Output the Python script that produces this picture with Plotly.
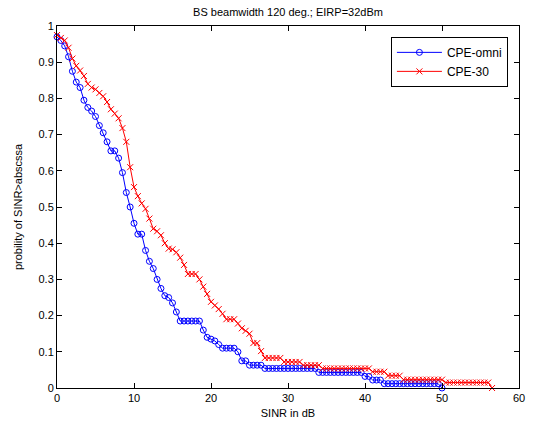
import plotly.graph_objects as go

sinr_db = [0, 0.5, 1, 1.5, 2, 2.5, 3, 3.5, 4, 4.5, 5, 5.5, 6, 6.5, 7, 7.5, 8, 8.5, 9, 9.5,
           10, 10.5, 11, 11.5, 12, 12.5, 13, 13.5, 14, 14.5, 15, 15.5, 16, 16.5, 17, 17.5, 18, 18.5, 19, 19.5,
           20, 20.5, 21, 21.5, 22, 22.5, 23, 23.5, 24, 24.5, 25, 25.5, 26, 26.5, 27, 27.5, 28, 28.5, 29, 29.5,
           30, 30.5, 31, 31.5, 32, 32.5, 33, 33.5, 34, 34.5, 35, 35.5, 36, 36.5, 37, 37.5, 38, 38.5, 39, 39.5,
           40, 40.5, 41, 41.5, 42, 42.5, 43, 43.5, 44, 44.5, 45, 45.5, 46, 46.5, 47, 47.5, 48, 48.5, 49, 49.5,
           50, 50.5, 51, 51.5, 52, 52.5, 53, 53.5, 54, 54.5, 55, 55.5, 56, 56.5]

p_omni = [0.97, 0.96, 0.945, 0.915, 0.875, 0.845, 0.83, 0.795, 0.775, 0.765,
          0.75, 0.725, 0.705, 0.68, 0.655, 0.655, 0.635, 0.595, 0.54, 0.50,
          0.455, 0.425, 0.425, 0.38, 0.35, 0.33, 0.30, 0.275, 0.255, 0.25,
          0.235, 0.21, 0.185, 0.185, 0.185, 0.185, 0.185, 0.185, 0.16, 0.14,
          0.135, 0.13, 0.12, 0.11, 0.11, 0.11, 0.11, 0.10, 0.075, 0.075,
          0.063, 0.063, 0.063, 0.063, 0.054, 0.054, 0.054, 0.054, 0.054, 0.054,
          0.054, 0.054, 0.054, 0.054, 0.054, 0.054, 0.054, 0.054, 0.043, 0.043,
          0.043, 0.043, 0.043, 0.043, 0.043, 0.043, 0.043, 0.043, 0.043, 0.043,
          0.032, 0.032, 0.022, 0.022, 0.022, 0.012, 0.012, 0.012, 0.012, 0.012,
          0.012, 0.012, 0.012, 0.012, 0.012, 0.012, 0.012, 0.012, 0.012, 0.012,
          0.0]

p_30 = [0.975, 0.967, 0.96, 0.94, 0.91, 0.89, 0.877, 0.862, 0.84, 0.83,
        0.825, 0.815, 0.806, 0.79, 0.77, 0.758, 0.745, 0.718, 0.68, 0.61,
        0.555, 0.53, 0.51, 0.495, 0.468, 0.44, 0.433, 0.422, 0.40, 0.385,
        0.383, 0.375, 0.36, 0.34, 0.315, 0.315, 0.315, 0.30, 0.28, 0.26,
        0.238, 0.228, 0.218, 0.205, 0.19, 0.19, 0.19, 0.178, 0.165, 0.158,
        0.15, 0.124, 0.124, 0.102, 0.083, 0.083, 0.083, 0.083, 0.083, 0.072,
        0.072, 0.072, 0.072, 0.072, 0.063, 0.063, 0.063, 0.063, 0.063, 0.054,
        0.054, 0.054, 0.054, 0.054, 0.054, 0.054, 0.054, 0.054, 0.054, 0.054,
        0.054, 0.054, 0.045, 0.045, 0.045, 0.045, 0.034, 0.034, 0.034, 0.034,
        0.023, 0.023, 0.023, 0.023, 0.023, 0.023, 0.023, 0.023, 0.023, 0.023,
        0.023, 0.015, 0.015, 0.015, 0.015, 0.015, 0.015, 0.015, 0.015, 0.015,
        0.015, 0.015, 0.015, 0.0]

x_ticks = [0, 10, 20, 30, 40, 50, 60]
y_ticks = [0, 0.1, 0.2, 0.3, 0.4, 0.5, 0.6, 0.7, 0.8, 0.9, 1]
y_tick_text = ["0", "0.1", "0.2", "0.3", "0.4", "0.5", "0.6", "0.7", "0.8", "0.9", "1"]

FONT = "Liberation Sans, Arial, Helvetica, sans-serif"

fig = go.Figure()
fig.add_trace(go.Scatter(
    x=sinr_db[:len(p_omni)], y=p_omni, name="CPE-omni", mode="lines+markers",
    line=dict(color="#0000FF", width=1),
    marker=dict(symbol="circle-open", size=6, color="#0000FF", line=dict(width=1, color="#0000FF")),
    cliponaxis=False,
))
fig.add_trace(go.Scatter(
    x=sinr_db[:len(p_30)], y=p_30, name="CPE-30", mode="lines+markers",
    line=dict(color="#FF0000", width=1),
    marker=dict(symbol="x-thin-open", size=6, color="#FF0000", line=dict(width=1, color="#FF0000")),
    cliponaxis=False,
))

axis_common = dict(
    showline=True, linecolor="black", linewidth=1, mirror="ticks",
    ticks="inside", ticklen=5, tickcolor="black", tickwidth=1,
    showgrid=False, zeroline=False, automargin=False,
    tickfont=dict(family=FONT, size=11, color="black"),
)

fig.update_layout(
    width=536, height=426,
    margin=dict(l=57, r=17, t=26, b=38),
    paper_bgcolor="white", plot_bgcolor="white",
    font=dict(family=FONT, size=11, color="black"),
    title=dict(text="BS beamwidth 120 deg.; EIRP=32dBm", x=288 / 536, xanchor="center",
               y=1 - 12 / 426, yanchor="middle", font=dict(family=FONT, size=11, color="black")),
    xaxis=dict(range=[0, 60], tickvals=x_ticks,
               title=dict(text="SINR in dB", standoff=6, font=dict(family=FONT, size=11)),
               **axis_common),
    yaxis=dict(range=[0, 1], tickvals=y_ticks, ticktext=y_tick_text,
               title=dict(text="probility of SINR>abscssa", standoff=13, font=dict(family=FONT, size=11)),
               **axis_common),
    legend=dict(x=0.976, xanchor="right", y=0.97, yanchor="top",
                bordercolor="black", borderwidth=1, bgcolor="white",
                font=dict(family=FONT, size=12, color="black"),
                itemwidth=45),
    showlegend=True,
)

fig.write_html("out.html", config={"displayModeBar": False},
               post_script="document.body.style.margin='0';")
